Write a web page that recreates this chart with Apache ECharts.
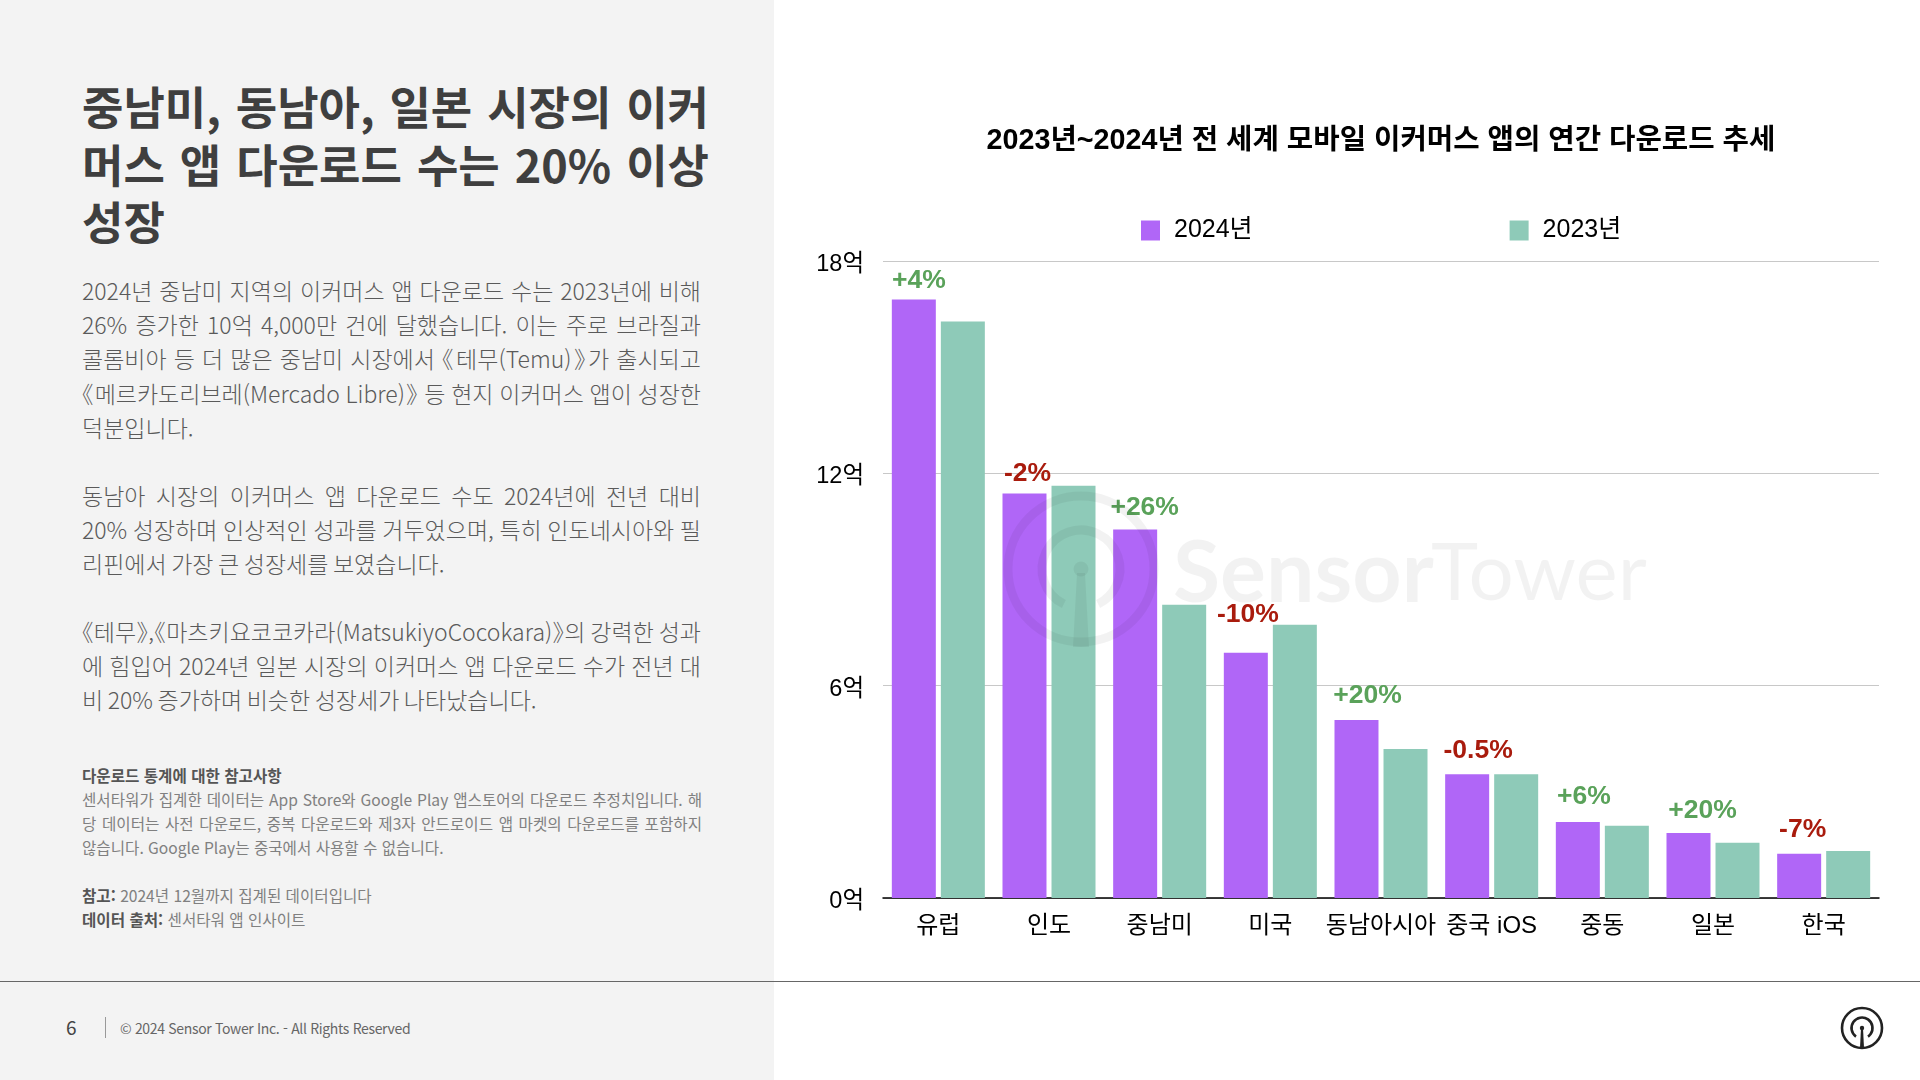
<!DOCTYPE html>
<html lang="ko">
<head>
<meta charset="utf-8">
<title>모바일 이커머스 앱 다운로드</title>
<script src="https://cdn.jsdelivr.net/npm/echarts@6/dist/echarts.min.js"></script>
<style>
html,body{margin:0;padding:0;width:1920px;height:1080px;overflow:hidden;background:#fff;font-family:"Noto Sans CJK KR","Noto Sans",sans-serif;}
#panel{position:absolute;left:0;top:0;width:774px;height:1080px;background:#f3f3f3;}
#rule{position:absolute;left:0;top:981px;width:1920px;height:1px;background:#666;}
#chart{position:absolute;left:0;top:0;width:1920px;height:1080px;}
.block{position:absolute;left:82px;}
.block div{white-space:nowrap;text-align:justify;text-align-last:justify;}
.block div.end{text-align-last:left;}
#head{width:627px;top:77px;font-size:45px;line-height:57.5px;font-weight:700;color:#3f3f3f;}
.body{width:619px;font-size:23px;line-height:34.2px;font-weight:300;color:#5a5a5a;word-spacing:-1.9px;font-feature-settings:"halt";}
.note{width:620px;font-size:15.6px;line-height:24px;font-weight:400;color:#808080;}
.note b{color:#555;font-weight:700;}
#pageno{position:absolute;left:66px;top:1013px;font-size:19px;line-height:28px;color:#444;}
#divider{position:absolute;left:105px;top:1017px;width:1px;height:21px;background:#999;}
#copy{position:absolute;left:120px;top:1016px;font-size:14px;line-height:24px;letter-spacing:-.33px;color:#666;white-space:nowrap;}
</style>
</head>
<body>
<div id="panel"></div>
<div id="rule"></div>
<div class="block" id="head">
<div>중남미, 동남아, 일본 시장의 이커</div>
<div>머스 앱 다운로드 수는 20% 이상</div>
<div class="end">성장</div>
</div>
<div class="block body" style="top:273px">
<div>2024년 중남미 지역의 이커머스 앱 다운로드 수는 2023년에 비해</div>
<div>26% 증가한 10억 4,000만 건에 달했습니다. 이는 주로 브라질과</div>
<div>콜롬비아 등 더 많은 중남미 시장에서 《테무(Temu)》가 출시되고</div>
<div>《메르카도리브레(Mercado Libre)》 등 현지 이커머스 앱이 성장한</div>
<div class="end">덕분입니다.</div>
</div>
<div class="block body" style="top:478px">
<div>동남아 시장의 이커머스 앱 다운로드 수도 2024년에 전년 대비</div>
<div>20% 성장하며 인상적인 성과를 거두었으며, 특히 인도네시아와 필</div>
<div class="end">리핀에서 가장 큰 성장세를 보였습니다.</div>
</div>
<div class="block body" style="top:614px">
<div>《테무》,《마츠키요코코카라(MatsukiyoCocokara)》의 강력한 성과</div>
<div>에 힘입어 2024년 일본 시장의 이커머스 앱 다운로드 수가 전년 대</div>
<div class="end">비 20% 증가하며 비슷한 성장세가 나타났습니다.</div>
</div>
<div class="block note" style="top:763px">
<div class="end"><b>다운로드 통계에 대한 참고사항</b></div>
<div>센서타워가 집계한 데이터는 App Store와 Google Play 앱스토어의 다운로드 추정치입니다. 해</div>
<div>당 데이터는 사전 다운로드, 중복 다운로드와 제3자 안드로이드 앱 마켓의 다운로드를 포함하지</div>
<div class="end">않습니다. Google Play는 중국에서 사용할 수 없습니다.</div>
</div>
<div class="block note" style="top:883px">
<div class="end"><b>참고:</b> 2024년 12월까지 집계된 데이터입니다</div>
<div class="end"><b>데이터 출처:</b> 센서타워 앱 인사이트</div>
</div>
<div id="pageno">6</div>
<div id="divider"></div>
<div id="copy">© 2024 Sensor Tower Inc. - All Rights Reserved</div>
<div id="chart"></div>
<script>
const categories = ['유럽','인도','중남미','미국','동남아시아','중국 iOS','중동','일본','한국'];
const downloads2024 = [16.91,11.43,10.41,6.93,5.03,3.50,2.15,1.84,1.25];
const downloads2023 = [16.29,11.65,8.29,7.72,4.21,3.50,2.04,1.56,1.33];
const changeLabels = ['+4%','-2%','+26%','-10%','+20%','-0.5%','+6%','+20%','-7%'];
const yTicks = [0,6,12,18];
const seriesNames = ['2024년','2023년'];
const chartTitle = '2023년~2024년 전 세계 모바일 이커머스 앱의 연간 다운로드 추세';

// label placement relative to the top of each 2024 bar (hand-placed in the source slide)
const labelNudgeX = [5,3,9.5,2,11,11,6,14,3.5];
const labelNudgeY = [-1,-2,-4,-20,-6,-5,-7,-4,-6];

const FONT = '"Liberation Sans","Noto Sans CJK KR",sans-serif';
const PURPLE = '#b066f7', TEAL = '#8ecab8';
const MARK = 'rgba(0,0,0,0.05)';

const chart = echarts.init(document.getElementById('chart'), null, {renderer:'canvas'});
const wm = {cx:1081, cy:569};
const overlay = {z:100, silent:true};
chart.setOption({
  animation:false,
  backgroundColor:'transparent',
  title:{text:chartTitle,left:1376,top:122,textAlign:'center',
    textStyle:{fontFamily:FONT,fontSize:28.7,fontWeight:'bold',color:'#000'}},
  legend:{left:1141,top:218,padding:0,itemWidth:19,itemHeight:20,itemGap:257,icon:'rect',
    data:seriesNames,selectedMode:false,
    textStyle:{fontFamily:FONT,fontSize:25,color:'#000',padding:[0,0,0,9]}},
  grid:{left:883,right:41,top:261,height:637,containLabel:false},
  xAxis:{type:'category',data:categories,
    axisLine:{lineStyle:{color:'#000',width:1.5}},axisTick:{show:false},
    axisLabel:{interval:0,margin:16,fontFamily:FONT,fontSize:24,color:'#000'}},
  yAxis:{type:'value',min:0,max:18,interval:6,
    axisLine:{show:false},axisTick:{show:false},
    splitLine:{lineStyle:{color:'#c8c8c8',width:1.2}},
    axisLabel:{margin:19,fontFamily:FONT,fontSize:23.5,color:'#000',
      formatter:v=>yTicks.includes(v)?'{t|'+v+'억}':'',
      rich:{t:{fontFamily:FONT,fontSize:23.5,color:'#000',padding:[7,0,0,0]}}}},
  series:[
    {name:seriesNames[0],type:'bar',barWidth:44,barGap:'11.4%',itemStyle:{color:PURPLE},
     data:downloads2024.map((v,i)=>({value:v,label:{
       show:true,position:'top',distance:5,offset:[labelNudgeX[i],labelNudgeY[i]],
       formatter:changeLabels[i],fontFamily:FONT,fontSize:26.5,fontWeight:'bold',
       color:changeLabels[i][0]==='+'?'#5aa25a':'#a91b0d'}}))},
    {name:seriesNames[1],type:'bar',barWidth:44,itemStyle:{color:TEAL},data:downloads2023}
  ],
  graphic:[
    {type:'circle',...overlay,shape:{cx:wm.cx,cy:wm.cy,r:73},style:{fill:'none',stroke:MARK,lineWidth:9}},
    {type:'arc',...overlay,shape:{cx:wm.cx,cy:wm.cy,r:39,startAngle:116*Math.PI/180,endAngle:424*Math.PI/180,clockwise:true},style:{fill:'none',stroke:MARK,lineWidth:9}},
    {type:'circle',...overlay,shape:{cx:wm.cx,cy:wm.cy,r:7.5},style:{fill:MARK}},
    {type:'polygon',...overlay,shape:{points:[[wm.cx-4,wm.cy+4],[wm.cx+4,wm.cy+4],[wm.cx+8,wm.cy+78],[wm.cx-8,wm.cy+78]]},style:{fill:MARK}},
    {type:'text',...overlay,x:1173,y:574,style:{text:'Sensor',font:'700 86px Lato',fill:MARK,textVerticalAlign:'middle'}},
    {type:'text',...overlay,x:1431,y:574,style:{text:'Tower',font:'400 80px Lato',fill:MARK,textVerticalAlign:'middle'}},
    {type:'circle',...overlay,shape:{cx:1862,cy:1028,r:20},style:{fill:'none',stroke:'#222',lineWidth:2.6}},
    {type:'arc',...overlay,shape:{cx:1862,cy:1028,r:10.5,startAngle:125*Math.PI/180,endAngle:415*Math.PI/180,clockwise:true},style:{fill:'none',stroke:'#222',lineWidth:2.6}},
    {type:'circle',...overlay,shape:{cx:1862,cy:1028,r:2.2},style:{fill:'#222'}},
    {type:'polygon',...overlay,shape:{points:[[1861,1028],[1863,1028],[1864,1048],[1860,1048]]},style:{fill:'#222'}}
  ]
});
</script>
</body>
</html>
